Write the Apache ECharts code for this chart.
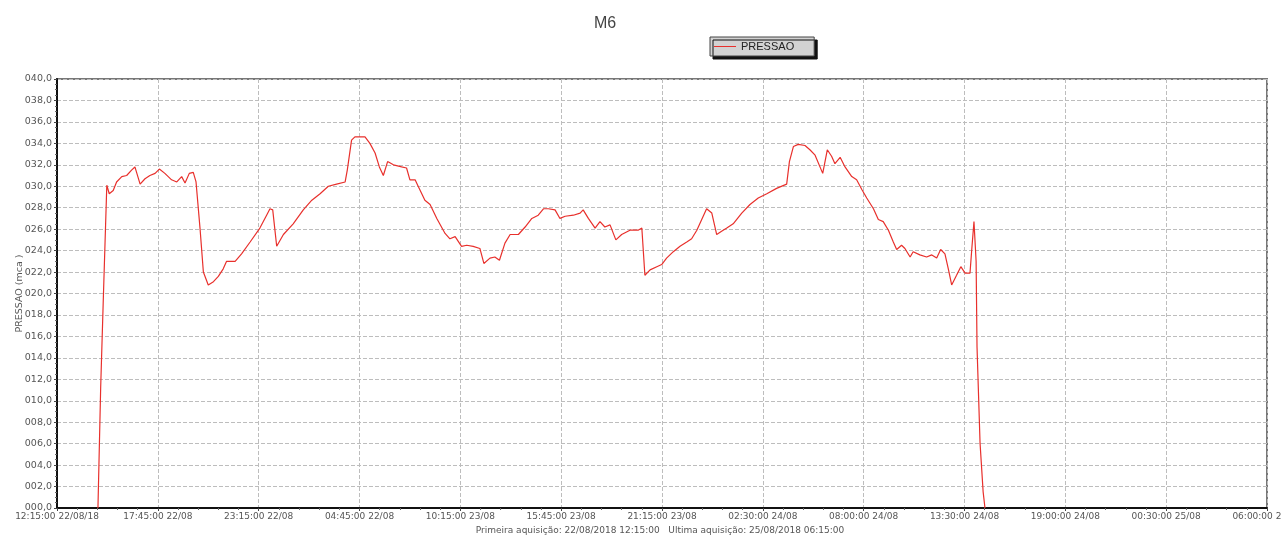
<!DOCTYPE html>
<html>
<head>
<meta charset="utf-8">
<script src="https://cdn.jsdelivr.net/npm/echarts@6/dist/echarts.min.js"></script>
<style>
html,body{margin:0;padding:0;background:#fff;}
#chart{width:1281px;height:538px;}
</style>
</head>
<body>
<div id="chart"></div>
<script>
// Time axis tick labels (one every 5h30 starting 12:15 22/08/18)
const xTickLabels = ["12:15:00 22/08/18","17:45:00 22/08","23:15:00 22/08","04:45:00 22/08","10:15:00 23/08","15:45:00 23/08","21:15:00 23/08","02:30:00 24/08","08:00:00 24/08","13:30:00 24/08","19:00:00 24/08","00:30:00 25/08","06:00:00 25/08"];
const tickStepMinutes = 330;
const seriesName = "PRESSAO";
// minutes elapsed since 22/08/2018 12:15:00
const minutes = [134,143,152,163,171,184,195,212,228,244,255,272,288,304,321,335,353,375,392,408,419,433,446,455,468,479,495,512,528,544,555,583,604,632,664,686,697,706,719,741,773,806,834,861,888,915,943,950,964,975,1008,1024,1041,1055,1068,1082,1101,1128,1144,1155,1172,1182,1204,1221,1243,1270,1286,1303,1324,1341,1362,1384,1397,1417,1433,1448,1466,1483,1510,1532,1554,1575,1592,1608,1630,1646,1663,1690,1712,1722,1739,1761,1777,1793,1810,1829,1848,1875,1902,1914,1924,1941,1963,1979,1995,2017,2039,2061,2077,2094,2126,2143,2159,2175,2192,2213,2241,2268,2295,2323,2355,2388,2397,2410,2426,2448,2464,2481,2506,2521,2535,2546,2563,2579,2601,2617,2634,2650,2672,2688,2704,2721,2737,2748,2764,2775,2792,2802,2824,2846,2863,2879,2892,2906,2917,2928,2944,2958,2972,2988,2994,3001,3008,3011,3021,3031,3037];
// pressure (mca)
const pressure = [0,11.3,19.9,30.1,29.3,29.6,30.4,30.9,31.0,31.5,31.8,30.2,30.7,31.0,31.2,31.6,31.2,30.6,30.4,30.9,30.3,31.2,31.3,30.4,26.1,22.0,20.8,21.1,21.6,22.3,23.0,23.0,23.7,24.8,26.1,27.3,27.9,27.8,24.4,25.5,26.5,27.8,28.7,29.3,30.0,30.2,30.4,31.5,34.3,34.6,34.6,34.0,33.1,31.8,31.0,32.3,32.0,31.8,31.7,30.6,30.6,30.0,28.7,28.3,27.0,25.6,25.1,25.3,24.4,24.5,24.4,24.2,22.8,23.3,23.4,23.1,24.7,25.5,25.5,26.2,27.0,27.3,27.9,27.9,27.8,27.0,27.2,27.3,27.5,27.8,27.0,26.1,26.7,26.2,26.4,25.0,25.5,25.9,25.9,26.1,21.7,22.2,22.5,22.7,23.3,23.9,24.4,24.8,25.1,25.9,27.9,27.5,25.5,25.8,26.1,26.5,27.5,28.3,28.9,29.3,29.8,30.2,32.3,33.7,33.9,33.8,33.4,32.9,31.2,33.4,32.8,32.1,32.7,31.8,30.9,30.6,29.7,28.9,27.9,26.9,26.7,25.9,24.8,24.1,24.5,24.2,23.4,23.9,23.6,23.4,23.6,23.3,24.1,23.7,22.3,20.8,21.7,22.5,21.9,21.9,24.2,26.7,23.0,15.0,6.0,1.5,0];

const chart = echarts.init(document.getElementById('chart'), null, {renderer:'canvas'});
const pairs = minutes.map((m,i)=>[m, pressure[i]]);
const font = 'DejaVu Sans';
const gridLine = {show:true, lineStyle:{color:'#bdbdbd', type:[4,2], width:1}};
chart.setOption({
  animation:false,
  backgroundColor:'#fff',
  title:{text:'M6', left:589, top:11, textStyle:{fontFamily:'Liberation Sans', fontSize:16, fontWeight:'normal', color:'#444'}},
  legend:{
    data:[seriesName], left:710, top:37, padding:[4,20,4,4],
    backgroundColor:'#d2d2d2', borderColor:'#444', borderWidth:1,
    shadowColor:'#111', shadowOffsetX:3, shadowOffsetY:3, shadowBlur:0,
    icon:'rect', itemWidth:22, itemHeight:1, itemGap:4,
    textStyle:{fontFamily:'Liberation Sans', fontSize:11, color:'#222'}
  },
  grid:{left:57, right:14, top:79, bottom:30, show:true, borderColor:'#777', borderWidth:2, containLabel:false, outerBoundsMode:'none'},
  xAxis:{
    type:'value', min:0, max:tickStepMinutes*(xTickLabels.length-1), interval:tickStepMinutes,
    axisLine:{show:true, onZero:false, lineStyle:{color:'#111', width:2}},
    axisTick:{show:true, length:3, lineStyle:{color:'#444'}},
    minorTick:{show:true, splitNumber:5, length:2, lineStyle:{color:'#666'}},
    axisLabel:{fontFamily:font, fontSize:9, color:'#555', margin:4,
      formatter:(v)=>xTickLabels[Math.round(v/tickStepMinutes)] || ''},
    splitLine:gridLine
  },
  yAxis:{
    type:'value', min:0, max:40, interval:2,
    name:'PRESSAO (mca )', nameLocation:'middle', nameGap:32, nameRotate:90, nameMoveOverlap:false,
    nameTextStyle:{fontFamily:font, fontSize:9.5, color:'#555'},
    axisLine:{show:true, lineStyle:{color:'#111', width:2}},
    axisTick:{show:true, length:3, lineStyle:{color:'#444'}},
    minorTick:{show:true, splitNumber:4, length:2, lineStyle:{color:'#666'}},
    axisLabel:{fontFamily:font, fontSize:9.5, color:'#555', margin:5,
      formatter:(v)=>String(Math.round(v)).padStart(3,'0')+',0'},
    splitLine:gridLine
  },
  graphic:[{
    type:'text', x:660, y:526,
    style:{text:'Primeira aquisição: 22/08/2018 12:15:00   Ultima aquisição: 25/08/2018 06:15:00', fontFamily:font, fontSize:9, fill:'#555', textAlign:'center'}
  }],
  series:[{
    name:seriesName, type:'line', data:pairs, showSymbol:false, symbol:'none',
    lineStyle:{color:'#e8302c', width:1.2}, itemStyle:{color:'#e8302c'}
  }]
});
</script>
</body>
</html>
